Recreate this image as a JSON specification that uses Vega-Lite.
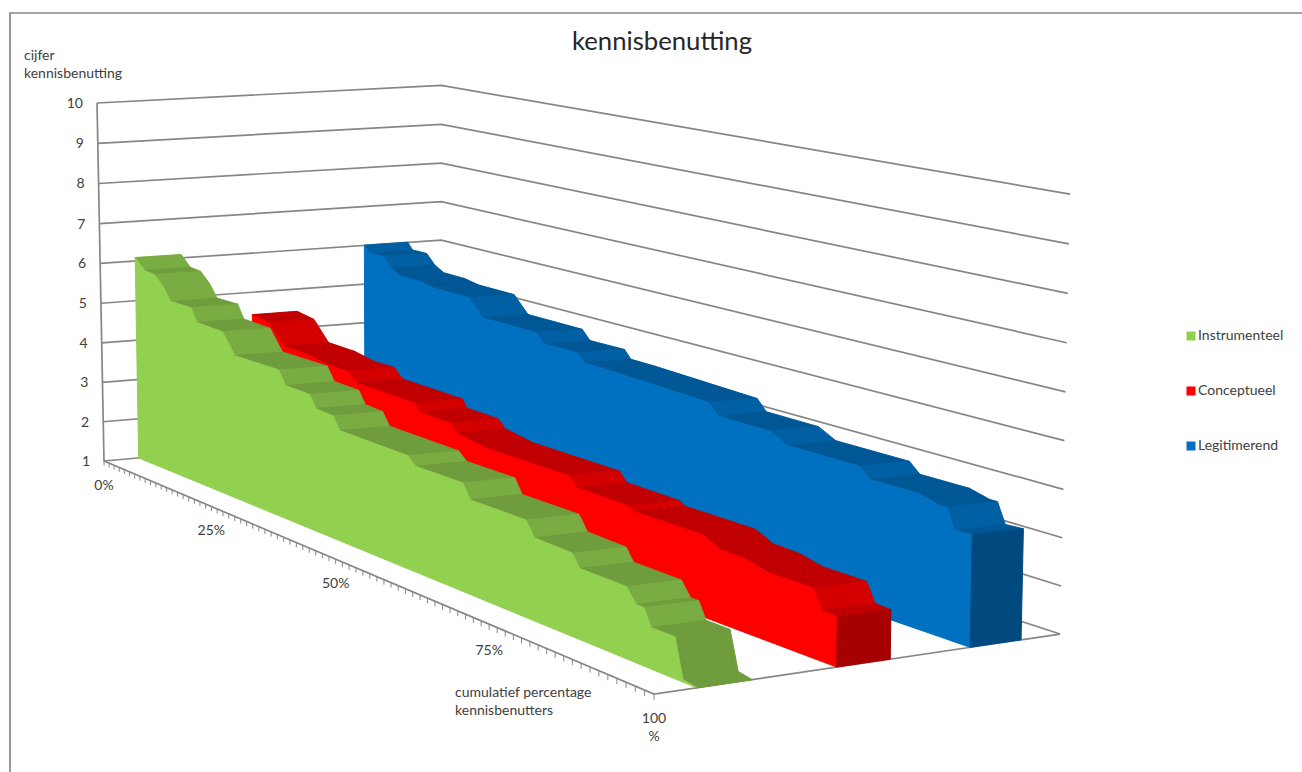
{
"$schema":"https://vega.github.io/schema/vega-lite/v6.json",
"width":1302,"height":772,"padding":0,"autosize":{"type":"none"},
"background":"white",
"config":{"view":{"stroke":null},"font":"Lato"},
"title":{"text":"kennisbenutting","font":"Lato","fontSize":25.7,"fontWeight":"normal","color":"#262626","anchor":"middle","frame":"group","offset":-56,"dx":11},
"datasets":{
"scores":[
{"series":"Legitimerend","pct":0,"score":6.01},{"series":"Legitimerend","pct":1,"score":5.84},{"series":"Legitimerend","pct":4.1,"score":5.84},{"series":"Legitimerend","pct":5.8,"score":5.6},{"series":"Legitimerend","pct":7.7,"score":5.46},{"series":"Legitimerend","pct":12.1,"score":5.45},{"series":"Legitimerend","pct":14.8,"score":5.38},{"series":"Legitimerend","pct":21.9,"score":5.37},{"series":"Legitimerend","pct":24.6,"score":4.97},{"series":"Legitimerend","pct":34.7,"score":4.96},{"series":"Legitimerend","pct":36.1,"score":4.74},{"series":"Legitimerend","pct":42.2,"score":4.75},{"series":"Legitimerend","pct":43.3,"score":4.56},{"series":"Legitimerend","pct":47.5,"score":4.55},{"series":"Legitimerend","pct":63.8,"score":4.45},{"series":"Legitimerend","pct":65.2,"score":4.21},{"series":"Legitimerend","pct":72.9,"score":4.2},{"series":"Legitimerend","pct":75.4,"score":4},{"series":"Legitimerend","pct":85.5,"score":4},{"series":"Legitimerend","pct":86.9,"score":3.79},{"series":"Legitimerend","pct":93.3,"score":3.79},{"series":"Legitimerend","pct":95.8,"score":3.68},{"series":"Legitimerend","pct":96.8,"score":3.68},{"series":"Legitimerend","pct":97.8,"score":3.26},{"series":"Legitimerend","pct":100,"score":3.28},
{"series":"Conceptueel","pct":0,"score":4.43},{"series":"Conceptueel","pct":3.8,"score":4.35},{"series":"Conceptueel","pct":7,"score":3.87},{"series":"Conceptueel","pct":12.7,"score":3.85},{"series":"Conceptueel","pct":16.8,"score":3.75},{"series":"Conceptueel","pct":20.9,"score":3.75},{"series":"Conceptueel","pct":22.6,"score":3.53},{"series":"Conceptueel","pct":34.3,"score":3.5},{"series":"Conceptueel","pct":35.1,"score":3.32},{"series":"Conceptueel","pct":40.9,"score":3.3},{"series":"Conceptueel","pct":42.2,"score":3.12},{"series":"Conceptueel","pct":47.1,"score":3},{"series":"Conceptueel","pct":61.6,"score":2.99},{"series":"Conceptueel","pct":62.8,"score":2.79},{"series":"Conceptueel","pct":71,"score":2.77},{"series":"Conceptueel","pct":71.8,"score":2.69},{"series":"Conceptueel","pct":82.1,"score":2.69},{"series":"Conceptueel","pct":84.5,"score":2.51},{"series":"Conceptueel","pct":88.2,"score":2.49},{"series":"Conceptueel","pct":91.1,"score":2.38},{"series":"Conceptueel","pct":96.9,"score":2.38},{"series":"Conceptueel","pct":98,"score":2},{"series":"Conceptueel","pct":100,"score":1.98},
{"series":"Instrumenteel","pct":0,"score":6.09},{"series":"Instrumenteel","pct":2.2,"score":5.83},{"series":"Instrumenteel","pct":4.6,"score":5.8},{"series":"Instrumenteel","pct":6.7,"score":5.55},{"series":"Instrumenteel","pct":8.3,"score":5.25},{"series":"Instrumenteel","pct":13,"score":5.25},{"series":"Instrumenteel","pct":14.3,"score":4.93},{"series":"Instrumenteel","pct":20,"score":4.9},{"series":"Instrumenteel","pct":22.6,"score":4.42},{"series":"Instrumenteel","pct":31.8,"score":4.42},{"series":"Instrumenteel","pct":33.2,"score":4.11},{"series":"Instrumenteel","pct":38,"score":4.09},{"series":"Instrumenteel","pct":39.2,"score":3.81},{"series":"Instrumenteel","pct":42.5,"score":3.78},{"series":"Instrumenteel","pct":43.8,"score":3.5},{"series":"Instrumenteel","pct":56.2,"score":3.47},{"series":"Instrumenteel","pct":57.6,"score":3.3},{"series":"Instrumenteel","pct":65.6,"score":3.3},{"series":"Instrumenteel","pct":66.8,"score":3},{"series":"Instrumenteel","pct":75.7,"score":3},{"series":"Instrumenteel","pct":77,"score":2.7},{"series":"Instrumenteel","pct":82.7,"score":2.67},{"series":"Instrumenteel","pct":83.8,"score":2.42},{"series":"Instrumenteel","pct":90.5,"score":2.41},{"series":"Instrumenteel","pct":91.8,"score":2.13},{"series":"Instrumenteel","pct":92.9,"score":2.13},{"series":"Instrumenteel","pct":93.9,"score":1.8},{"series":"Instrumenteel","pct":97.1,"score":1.8},{"series":"Instrumenteel","pct":98.2,"score":1.05},{"series":"Instrumenteel","pct":100,"score":1}
],
"border":[{"n":0},{"n":1},{"n":2}],
"frame":[
{"line":"v","n":0,"p":0,"d":0,"s":1},{"line":"v","n":1,"p":0,"d":0,"s":10},
{"line":"f","n":0,"p":0,"d":0,"s":1},{"line":"f","n":1,"p":100,"d":0,"s":1},{"line":"f","n":2,"p":100,"d":1,"s":1},
{"line":"1","n":0,"p":0,"d":0,"s":1},{"line":"1","n":1,"p":0,"d":1,"s":1},{"line":"1","n":2,"p":100,"d":1,"s":1},
{"line":"2","n":0,"p":0,"d":0,"s":2},{"line":"2","n":1,"p":0,"d":1,"s":2},{"line":"2","n":2,"p":100,"d":1,"s":2},
{"line":"3","n":0,"p":0,"d":0,"s":3},{"line":"3","n":1,"p":0,"d":1,"s":3},{"line":"3","n":2,"p":100,"d":1,"s":3},
{"line":"4","n":0,"p":0,"d":0,"s":4},{"line":"4","n":1,"p":0,"d":1,"s":4},{"line":"4","n":2,"p":100,"d":1,"s":4},
{"line":"5","n":0,"p":0,"d":0,"s":5},{"line":"5","n":1,"p":0,"d":1,"s":5},{"line":"5","n":2,"p":100,"d":1,"s":5},
{"line":"6","n":0,"p":0,"d":0,"s":6},{"line":"6","n":1,"p":0,"d":1,"s":6},{"line":"6","n":2,"p":100,"d":1,"s":6},
{"line":"7","n":0,"p":0,"d":0,"s":7},{"line":"7","n":1,"p":0,"d":1,"s":7},{"line":"7","n":2,"p":100,"d":1,"s":7},
{"line":"8","n":0,"p":0,"d":0,"s":8},{"line":"8","n":1,"p":0,"d":1,"s":8},{"line":"8","n":2,"p":100,"d":1,"s":8},
{"line":"9","n":0,"p":0,"d":0,"s":9},{"line":"9","n":1,"p":0,"d":1,"s":9},{"line":"9","n":2,"p":100,"d":1,"s":9},
{"line":"10","n":0,"p":0,"d":0,"s":10},{"line":"10","n":1,"p":0,"d":1,"s":10},{"line":"10","n":2,"p":100,"d":1,"s":10}
],
"ticks":[{"p":0},{"p":1.25},{"p":2.5},{"p":3.75},{"p":5},{"p":6.25},{"p":7.5},{"p":8.75},{"p":10},{"p":11.25},{"p":12.5},{"p":13.75},{"p":15},{"p":16.25},{"p":17.5},{"p":18.75},{"p":20},{"p":21.25},{"p":22.5},{"p":23.75},{"p":25},{"p":26.25},{"p":27.5},{"p":28.75},{"p":30},{"p":31.25},{"p":32.5},{"p":33.75},{"p":35},{"p":36.25},{"p":37.5},{"p":38.75},{"p":40},{"p":41.25},{"p":42.5},{"p":43.75},{"p":45},{"p":46.25},{"p":47.5},{"p":48.75},{"p":50},{"p":51.25},{"p":52.5},{"p":53.75},{"p":55},{"p":56.25},{"p":57.5},{"p":58.75},{"p":60},{"p":61.25},{"p":62.5},{"p":63.75},{"p":65},{"p":66.25},{"p":67.5},{"p":68.75},{"p":70},{"p":71.25},{"p":72.5},{"p":73.75},{"p":75},{"p":76.25},{"p":77.5},{"p":78.75},{"p":80},{"p":81.25},{"p":82.5},{"p":83.75},{"p":85},{"p":86.25},{"p":87.5},{"p":88.75},{"p":90},{"p":91.25},{"p":92.5},{"p":93.75},{"p":95},{"p":96.25},{"p":97.5},{"p":98.75},{"p":100}],
"labels":[
{"kind":"y","label":"1","p":0,"d":0,"s":1},{"kind":"y","label":"2","p":0,"d":0,"s":2},{"kind":"y","label":"3","p":0,"d":0,"s":3},{"kind":"y","label":"4","p":0,"d":0,"s":4},{"kind":"y","label":"5","p":0,"d":0,"s":5},{"kind":"y","label":"6","p":0,"d":0,"s":6},{"kind":"y","label":"7","p":0,"d":0,"s":7},{"kind":"y","label":"8","p":0,"d":0,"s":8},{"kind":"y","label":"9","p":0,"d":0,"s":9},{"kind":"y","label":"10","p":0,"d":0,"s":10},
{"kind":"x","label":"0%","p":0,"d":0,"s":1},{"kind":"x","label":"25%","p":25,"d":0,"s":1},{"kind":"x","label":"50%","p":50,"d":0,"s":1},{"kind":"x","label":"100\n%","p":100,"d":0,"s":1},
{"kind":"x75","label":"75%","p":75,"d":0,"s":1},
{"kind":"ty","label":"cijfer\nkennisbenutting","p":0,"d":0,"s":10},
{"kind":"tx","label":"cumulatief percentage\nkennisbenutters","p":100,"d":0,"s":1}
]
},
"encoding":{
"x":{"field":"sx","type":"quantitative","scale":{"domain":[0,1302],"nice":false,"zero":false},"axis":null},
"y":{"field":"sy","type":"quantitative","scale":{"domain":[772,0],"nice":false,"zero":false},"axis":null}
},
"layer":[
{"data":{"name":"border"},
"transform":[{"calculate":"datum.n==2?1302:10","as":"sx"},{"calculate":"datum.n==0?772:13","as":"sy"}],
"mark":{"type":"line","color":"#868686","strokeWidth":1.7,"clip":false},
"encoding":{"order":{"field":"n"}}},
{"data":{"name":"frame"},
"transform":[
{"calculate":"datum.p/100","as":"u"},{"calculate":"datum.d","as":"w"},{"calculate":"(datum.s-1)/9","as":"z"},
{"calculate":"1-0.2725*datum.u+0.06725*datum.w-0.0153*datum.z","as":"D"},
{"calculate":"(104+371.8*datum.u+366.7*datum.w-8.48*datum.z)/datum.D+2*datum.w*datum.z*(1-datum.u)","as":"sx"},
{"calculate":"(461+43.9*datum.u-1*datum.w-359.6*datum.z)/datum.D+datum.w*datum.z*(19*datum.u-10)","as":"sy"}],
"mark":{"type":"line","color":"#868686","strokeWidth":1.7,"clip":false},
"encoding":{"detail":{"field":"line"},"order":{"field":"n"}}},
{"data":{"name":"ticks"},
"transform":[
{"calculate":"[1,0.89]","as":"ends"},{"flatten":["ends"],"as":["s"]},
{"calculate":"datum.p/100","as":"u"},{"calculate":"0","as":"w"},{"calculate":"(datum.s-1)/9","as":"z"},
{"calculate":"1-0.2725*datum.u-0.0153*datum.z","as":"D"},
{"calculate":"(104+371.8*datum.u-8.48*datum.z)/datum.D","as":"sx"},
{"calculate":"(461+43.9*datum.u-359.6*datum.z)/datum.D","as":"sy"}],
"mark":{"type":"line","color":"#868686","strokeWidth":1},
"encoding":{"detail":{"field":"p"},"order":{"field":"s"}}},
{"data":{"name":"scores"},
"transform":[
{"window":[{"op":"lead","field":"pct","as":"pct2"},{"op":"lead","field":"score","as":"score2"}],"groupby":["series"],"sort":[{"field":"pct","order":"ascending"}]},
{"calculate":"datum.pct2==null?['end']:['top','front']","as":"faces"},{"flatten":["faces"],"as":["face"]},
{"calculate":"[0,1,2,3,4]","as":"verts"},{"flatten":["verts"],"as":["v"]},
{"calculate":"datum.series=='Instrumenteel'?0.097:datum.series=='Conceptueel'?0.428:0.763","as":"w1"},
{"calculate":"datum.series=='Instrumenteel'?0.2256:datum.series=='Conceptueel'?0.56:0.896","as":"w2"},
{"calculate":"datum.face=='end'?datum.pct:((datum.v==0||datum.v>=3)?datum.pct:datum.pct2)","as":"p"},
{"calculate":"datum.face=='end'?((datum.v<2||datum.v==4)?datum.score:1):datum.face=='front'?((datum.v==0||datum.v==4)?datum.score:datum.v==1?datum.score2:1):((datum.v==0||datum.v>=3)?datum.score:datum.score2)","as":"s"},
{"calculate":"datum.face=='end'?((datum.v==0||datum.v>=3)?datum.w1:datum.w2):datum.face=='front'?datum.w1:((datum.v<2||datum.v==4)?datum.w1:datum.w2)","as":"w"},
{"calculate":"datum.p/100","as":"u"},{"calculate":"(datum.s-1)/9","as":"z"},
{"calculate":"1-0.2725*datum.u+0.06725*datum.w-0.0153*datum.z","as":"D"},
{"calculate":"(104+371.8*datum.u+366.7*datum.w-8.48*datum.z)/datum.D+2*datum.w*datum.z*(1-datum.u)","as":"sx"},
{"calculate":"(461+43.9*datum.u-1*datum.w-359.6*datum.z)/datum.D+datum.w*datum.z*(19*datum.u-10)","as":"sy"},
{"calculate":"(datum.score-datum.score2)/(datum.pct2-datum.pct)","as":"slope"},
{"calculate":"datum.face=='front'?datum.series:datum.face=='end'?datum.series+' eind':((datum.slope>0.08&&datum.slope<0.5)?datum.series+' helling':datum.series+' vlak')","as":"facet"},
{"calculate":"datum.series+'|'+datum.pct+'|'+datum.face","as":"key"}
],
"mark":{"type":"line","strokeWidth":1,"clip":false},
"encoding":{
"detail":{"field":"key"},
"order":{"field":"v"},
"fill":{"field":"facet","type":"nominal","title":null,
"scale":{"domain":["Instrumenteel","Conceptueel","Legitimerend","Instrumenteel vlak","Instrumenteel helling","Instrumenteel eind","Conceptueel vlak","Conceptueel helling","Conceptueel eind","Legitimerend vlak","Legitimerend helling","Legitimerend eind"],
"range":["#92D050","#FF0000","#0070C0","#6F9C3D","#79AC42","#6F9C3D","#C00000","#D40000","#A60000","#005796","#0060A3","#004A80"]},
"legend":{"values":["Instrumenteel","Conceptueel","Legitimerend"],"orient":"none","legendX":1184,"legendY":329,"symbolType":"square","symbolSize":81,"symbolStrokeWidth":0,"labelFont":"Lato","labelFontSize":14,"labelColor":"#404040","labelOffset":0,"rowPadding":41,"clipHeight":14}},
"stroke":{"field":"facet","type":"nominal","legend":null,
"scale":{"domain":["Instrumenteel","Conceptueel","Legitimerend","Instrumenteel vlak","Instrumenteel helling","Instrumenteel eind","Conceptueel vlak","Conceptueel helling","Conceptueel eind","Legitimerend vlak","Legitimerend helling","Legitimerend eind"],
"range":["#92D050","#FF0000","#0070C0","#6F9C3D","#79AC42","#6F9C3D","#C00000","#D40000","#A60000","#005796","#0060A3","#004A80"]}}
}},
{"data":{"name":"labels"},
"transform":[
{"calculate":"datum.p/100","as":"u"},{"calculate":"(datum.s-1)/9","as":"z"},
{"calculate":"1-0.2725*datum.u-0.0153*datum.z","as":"D"},
{"calculate":"(104+371.8*datum.u-8.48*datum.z)/datum.D","as":"sx"},
{"calculate":"(461+43.9*datum.u-359.6*datum.z)/datum.D","as":"sy"}],
"encoding":{"text":{"field":"label"}},
"layer":[
{"transform":[{"filter":"datum.kind=='y'"}],"mark":{"type":"text","align":"right","baseline":"middle","dx":-14,"dy":1,"font":"Lato","fontSize":14,"color":"#404040"}},
{"transform":[{"filter":"datum.kind=='x'"}],"mark":{"type":"text","align":"center","baseline":"alphabetic","dy":29,"lineBreak":"\n","lineHeight":18,"font":"Lato","fontSize":14,"color":"#404040"}},
{"transform":[{"filter":"datum.kind=='x75'"}],"mark":{"type":"text","align":"center","baseline":"alphabetic","dx":8,"dy":34,"font":"Lato","fontSize":14,"color":"#404040"}},
{"transform":[{"filter":"datum.kind=='ty'"}],"mark":{"type":"text","align":"left","baseline":"alphabetic","dx":-73,"dy":-43,"lineBreak":"\n","lineHeight":18,"font":"Lato","fontSize":14,"color":"#404040"}},
{"transform":[{"filter":"datum.kind=='tx'"}],"mark":{"type":"text","align":"left","baseline":"alphabetic","dx":-199,"dy":3,"lineBreak":"\n","lineHeight":18,"font":"Lato","fontSize":14,"color":"#404040"}}
]}
]
}
